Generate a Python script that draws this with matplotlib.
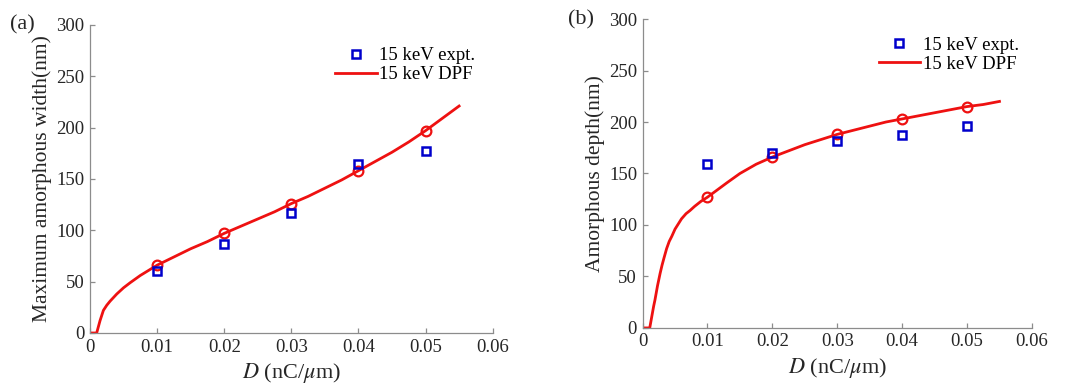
import numpy as np
import matplotlib
matplotlib.use('Agg')
import matplotlib.pyplot as plt

plt.rcParams['font.family'] = ['Liberation Serif', 'DejaVu Serif']
plt.rcParams['mathtext.fontset'] = 'stix'

#doses where data was taken
dose = [0.01, 0.02, 0.03, 0.04, 0.05]

#(a) max amorphous width
width_expt = [60, 87, 117, 165, 177]
width_dpf = [66, 97, 126, 158, 197]
width_curve_x = [0, 0.001, 0.0015, 0.002, 0.0025, 0.003, 0.004, 0.005, 0.006, 0.0075,
                 0.009, 0.01, 0.0125, 0.015, 0.0175, 0.02, 0.0225, 0.025, 0.0275, 0.03,
                 0.0325, 0.035, 0.0375, 0.04, 0.0425, 0.045, 0.0475, 0.05, 0.0525, 0.055]
width_curve_y = [0, 0, 12, 22, 27, 31, 38, 44, 49, 56, 62, 66, 74, 82, 89, 97, 104, 111,
                 118, 126, 133, 141, 149, 158, 167, 176, 186, 197, 209, 221]

#(b) amorphous depth
depth_expt = [159, 170, 182, 187, 196]
depth_dpf = [127, 166, 188, 203, 215]
depth_curve_x = [0, 0.0011, 0.0013, 0.0015, 0.0017, 0.0019, 0.0021, 0.0023, 0.0025,
                 0.0027, 0.003, 0.0033, 0.0037, 0.0041, 0.0045, 0.005, 0.0055, 0.006,
                 0.0067, 0.0073, 0.008, 0.009, 0.01, 0.0115, 0.013, 0.015, 0.0175, 0.02,
                 0.0225, 0.025, 0.0275, 0.03, 0.0325, 0.035, 0.0375, 0.04, 0.0425, 0.045,
                 0.0475, 0.05, 0.0525, 0.055]
depth_curve_y = [0, 0, 7, 14, 21, 27, 34, 41, 47, 53, 61, 68, 77, 84, 89, 96, 101, 106,
                 111, 114, 118, 123, 127, 134, 141, 150, 159, 166, 172, 178, 183, 188,
                 192, 196, 200, 203, 206, 209, 212, 215, 217, 220]

fig = plt.figure(figsize=(10.71, 3.89), dpi=100)
ax1 = fig.add_axes([0.084, 0.144, 0.376, 0.792])
ax2 = fig.add_axes([0.600, 0.157, 0.3635, 0.794])

def style(ax, ylabel):
    ax.set_xlim(0, 0.06)
    ax.set_ylim(0, 300)
    ax.set_xticks([0, 0.01, 0.02, 0.03, 0.04, 0.05, 0.06])
    ax.set_xticklabels(['0', '0.01', '0.02', '0.03', '0.04', '0.05', '0.06'])
    ax.set_yticks(range(0, 301, 50))
    for s in ['top', 'right']:
        ax.spines[s].set_visible(False)
    for s in ['left', 'bottom']:
        ax.spines[s].set_color('#8c8c8c')
        ax.spines[s].set_linewidth(0.9)
    ax.tick_params(direction='in', length=3.5, width=0.9, colors='#8c8c8c',
                   labelcolor='#262626', labelsize=13.5, pad=4)
    ax.set_xlabel(r'$\it{D}$ (nC/$\mu$m)', fontsize=16, color='#262626', labelpad=4)
    ax.set_ylabel(ylabel, fontsize=15.5, color='#262626', labelpad=3)

# panel a
ax1.plot(width_curve_x, width_curve_y, color='#ee1111', lw=2, label='15 keV DPF', zorder=2)
ax1.plot(dose, width_dpf, 'o', mfc='none', mec='#ee1111', mew=1.6, ms=7, zorder=3)
ax1.plot(dose, width_expt, 's', mfc='none', mec='#0000cc', mew=1.8, ms=5.5,
         label='15 keV expt.', linestyle='none', zorder=4)
style(ax1, 'Maximum amorphous width(nm)')
h, l = ax1.get_legend_handles_labels()
ax1.legend(h[::-1], l[::-1], loc='upper right', bbox_to_anchor=(0.99, 0.97), frameon=False,
           fontsize=13.5, handlelength=2.2, handletextpad=0.15, borderpad=0.2, labelspacing=0.1)
fig.text(0.009, 0.925, '(a)', fontsize=16, color='#262626')

# panel b
ax2.plot(depth_curve_x, depth_curve_y, color='#ee1111', lw=2, label='15 keV DPF', zorder=2)
ax2.plot(dose, depth_dpf, 'o', mfc='none', mec='#ee1111', mew=1.6, ms=7, zorder=3)
ax2.plot(dose, depth_expt, 's', mfc='none', mec='#0000cc', mew=1.8, ms=5.5,
         label='15 keV expt.', linestyle='none', zorder=4)
style(ax2, 'Amorphous depth(nm)')
h, l = ax2.get_legend_handles_labels()
ax2.legend(h[::-1], l[::-1], loc='upper right', bbox_to_anchor=(1.0, 0.985), frameon=False,
           fontsize=13.5, handlelength=2.2, handletextpad=0.15, borderpad=0.2, labelspacing=0.1)
fig.text(0.530, 0.938, '(b)', fontsize=16, color='#262626')

fig.savefig('out.png', dpi=100)
